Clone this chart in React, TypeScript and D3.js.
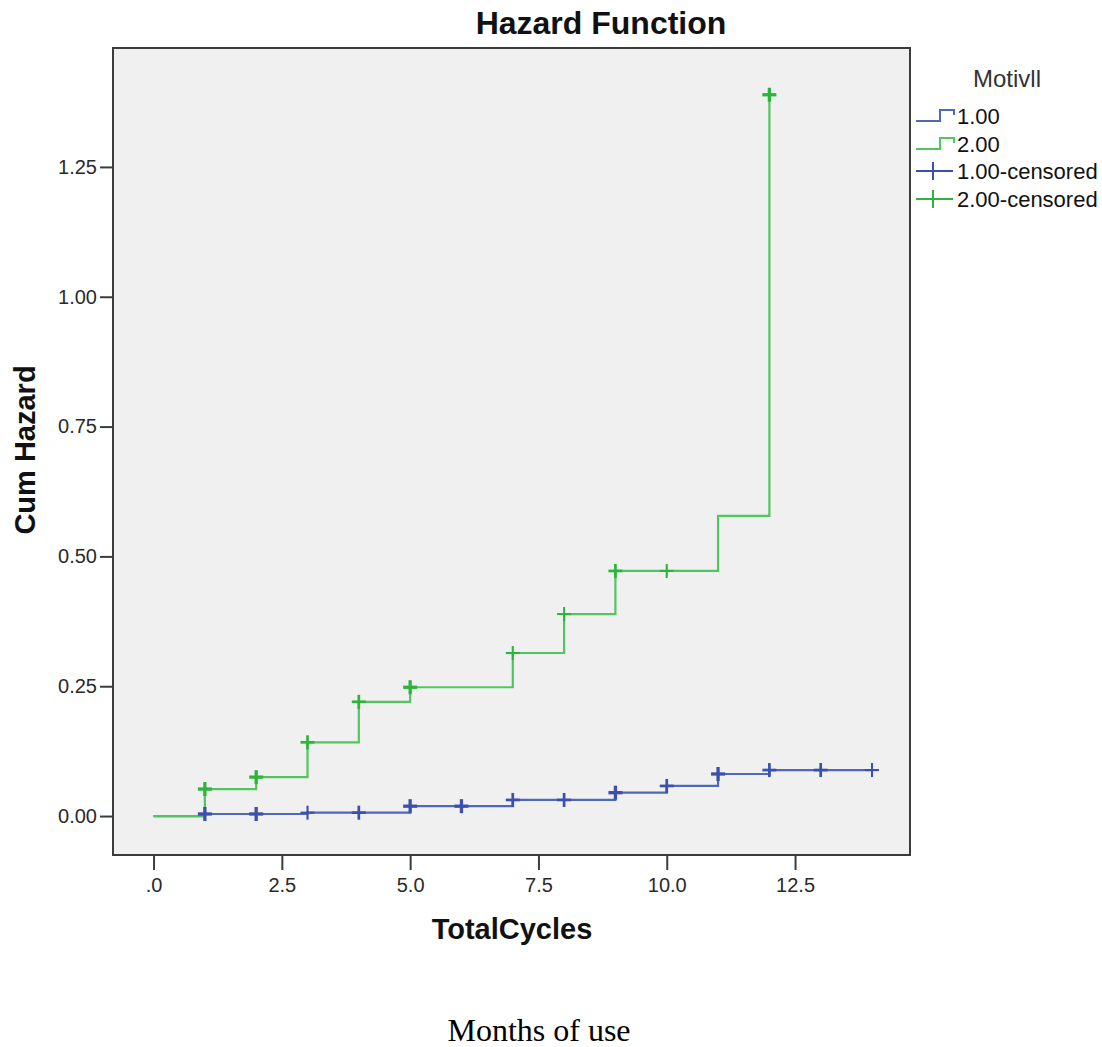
import React, { useEffect, useRef } from "react";
import * as d3 from "d3";

// Group 1.00 (MotivII) - step function of cumulative hazard
const blueTimes = [0, 1, 3, 5, 7, 9, 10, 11, 12, 14];
const blueHazard = [0, 0.004, 0.0065, 0.019, 0.031, 0.045, 0.058, 0.081, 0.0886, 0.0886];
const blueCensoredTimes = [1, 2, 3, 4, 5, 6, 7, 8, 9, 10, 11, 12, 13, 14];
const blueCensoredCounts = [3, 3, 1, 2, 3, 3, 2, 2, 3, 2, 3, 2, 2, 1];

// Group 2.00
const greenTimes = [0, 1, 2, 3, 4, 5, 7, 8, 9, 11, 12];
const greenHazard = [0, 0.052, 0.075, 0.142, 0.22, 0.248, 0.314, 0.389, 0.472, 0.578, 1.389];
const greenCensoredTimes = [1, 2, 3, 4, 5, 7, 8, 9, 10, 12];
const greenCensoredCounts = [3, 3, 2, 2, 3, 1, 1, 2, 1, 3];

const xTicks = [0, 2.5, 5, 7.5, 10, 12.5];
const yTicks = [0, 0.25, 0.5, 0.75, 1, 1.25];
const legendLabels = ["1.00", "2.00", "1.00-censored", "2.00-censored"];

const BLUE_LINE = "#5068bb";
const BLUE_MARK = "#3a4fae";
const GREEN_LINE = "#52c65e";
const GREEN_MARK = "#2db43d";

const FONT = "'Liberation Sans', Arial, sans-serif";

function HazardChart() {
    const ref = useRef(null);

    useEffect(() => {
        const svg = d3.select(ref.current);
        svg.selectAll("*").remove();

        // plot frame
        const box = { left: 113, right: 910, top: 48, bottom: 855 };

        const x = d3.scaleLinear().domain([-0.79, 14.74]).range([box.left, box.right]);
        const y = d3.scaleLinear().domain([-0.075, 1.479]).range([box.bottom, box.top]);

        svg.append("rect")
            .attr("x", box.left)
            .attr("y", box.top)
            .attr("width", box.right - box.left)
            .attr("height", box.bottom - box.top)
            .attr("fill", "#f0f0f0")
            .attr("stroke", "#3c3c3c")
            .attr("stroke-width", 2);

        // title
        svg.append("text")
            .attr("x", 601)
            .attr("y", 34)
            .attr("text-anchor", "middle")
            .attr("font-family", FONT)
            .attr("font-weight", "bold")
            .attr("font-size", 32)
            .attr("fill", "#111")
            .text("Hazard Function");

        // X axis
        const xAxis = svg.append("g")
            .attr("transform", `translate(0, ${box.bottom})`)
            .call(d3.axisBottom(x)
                .tickValues(xTicks)
                .tickSize(15)
                .tickPadding(8)
                .tickFormat(d => (d === 0 ? ".0" : d3.format(".1f")(d))));
        xAxis.select(".domain").remove();
        xAxis.selectAll("line").attr("stroke", "#3c3c3c").attr("stroke-width", 2);
        xAxis.selectAll("text")
            .attr("font-family", FONT)
            .attr("font-size", 20)
            .attr("fill", "#2a2a2a");

        // Y axis
        const yAxis = svg.append("g")
            .attr("transform", `translate(${box.left}, 0)`)
            .call(d3.axisLeft(y)
                .tickValues(yTicks)
                .tickSize(13)
                .tickPadding(3)
                .tickFormat(d3.format(".2f")));
        yAxis.select(".domain").remove();
        yAxis.selectAll("line").attr("stroke", "#3c3c3c").attr("stroke-width", 2);
        yAxis.selectAll("text")
            .attr("font-family", FONT)
            .attr("font-size", 20)
            .attr("fill", "#2a2a2a");

        // axis titles
        svg.append("text")
            .attr("x", 512)
            .attr("y", 939)
            .attr("text-anchor", "middle")
            .attr("font-family", FONT)
            .attr("font-weight", "bold")
            .attr("font-size", 29)
            .attr("fill", "#111")
            .text("TotalCycles");

        svg.append("text")
            .attr("transform", "translate(35, 450) rotate(-90)")
            .attr("text-anchor", "middle")
            .attr("font-family", FONT)
            .attr("font-weight", "bold")
            .attr("font-size", 29)
            .attr("fill", "#111")
            .text("Cum Hazard");

        const series = [
            { times: blueTimes, haz: blueHazard, cT: blueCensoredTimes, cN: blueCensoredCounts, line: BLUE_LINE, mark: BLUE_MARK },
            { times: greenTimes, haz: greenHazard, cT: greenCensoredTimes, cN: greenCensoredCounts, line: GREEN_LINE, mark: GREEN_MARK },
        ];

        const stepLine = d3.line()
            .x(d => x(d[0]))
            .y(d => y(d[1]))
            .curve(d3.curveStepAfter);

        const plot = svg.append("g");

        series.forEach(s => {
            plot.append("path")
                .datum(s.times.map((t, i) => [t, s.haz[i]]))
                .attr("d", stepLine)
                .attr("fill", "none")
                .attr("stroke", s.line)
                .attr("stroke-width", 2.2);
        });

        // censored marks
        series.forEach(s => {
            const marks = s.cT.map((t, i) => {
                const idx = d3.bisectRight(s.times, t) - 1;
                return { t, v: s.haz[idx], n: s.cN[i] };
            });
            const g = plot.selectAll(null)
                .data(marks)
                .enter()
                .append("g")
                .attr("transform", d => `translate(${x(d.t)}, ${y(d.v)})`)
                .attr("stroke", s.mark)
                .attr("stroke-width", d => 1.5 + d.n * 0.6);
            g.append("line").attr("x1", -7).attr("x2", 7).attr("y1", 0).attr("y2", 0);
            g.append("line").attr("x1", 0).attr("x2", 0).attr("y1", -7).attr("y2", 7);
        });

        // legend
        svg.append("text")
            .attr("x", 1007)
            .attr("y", 87)
            .attr("text-anchor", "middle")
            .attr("font-family", FONT)
            .attr("font-size", 24)
            .attr("fill", "#333")
            .text("Motivll");

        const legendY = [116, 144, 171, 199];
        const legendColors = [BLUE_LINE, GREEN_LINE, BLUE_MARK, GREEN_MARK];
        legendLabels.forEach((label, i) => {
            const ly = legendY[i];
            const lg = svg.append("g");
            if (i < 2) {
                lg.append("path")
                    .attr("d", `M916,${ly + 5} H940 V${ly - 6} H954 V${ly - 1}`)
                    .attr("fill", "none")
                    .attr("stroke", legendColors[i])
                    .attr("stroke-width", 2);
            } else {
                lg.append("line")
                    .attr("x1", 916).attr("x2", 953).attr("y1", ly).attr("y2", ly)
                    .attr("stroke", legendColors[i]).attr("stroke-width", 2);
                lg.append("line")
                    .attr("x1", 933).attr("x2", 933).attr("y1", ly - 9).attr("y2", ly + 9)
                    .attr("stroke", legendColors[i]).attr("stroke-width", 2);
            }
            lg.append("text")
                .attr("x", 957)
                .attr("y", ly + 8)
                .attr("font-family", FONT)
                .attr("font-size", 22)
                .attr("fill", "#111")
                .text(label);
        });

        // caption below chart
        svg.append("text")
            .attr("x", 539)
            .attr("y", 1041)
            .attr("text-anchor", "middle")
            .attr("font-family", "'Liberation Serif', 'Times New Roman', serif")
            .attr("font-size", 32)
            .attr("fill", "#000")
            .text("Months of use");
    }, []);

    return <svg ref={ref} width={1102} height={1047} />;
}

export default function App() {
    return (
        <div style={{ position: "absolute", left: 0, top: 0, background: "#fff" }}>
            <HazardChart />
        </div>
    );
}
